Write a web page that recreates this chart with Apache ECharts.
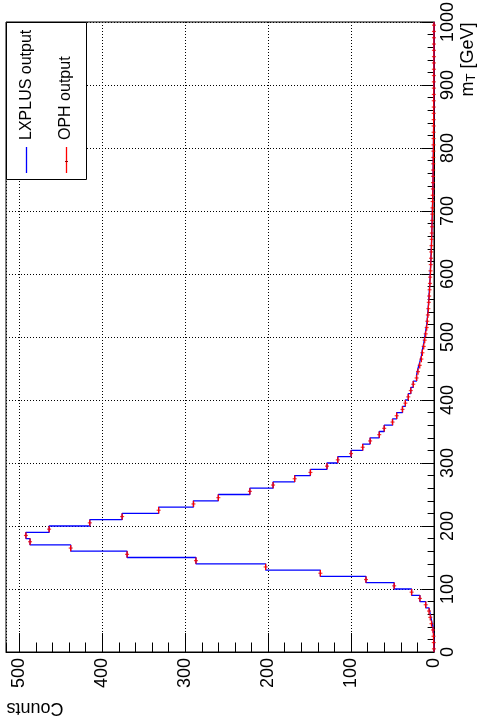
<!DOCTYPE html>
<html><head><meta charset="utf-8">
<script src="https://cdn.jsdelivr.net/npm/echarts@6/dist/echarts.min.js"></script>
<style>html,body{margin:0;padding:0;background:#fff}#c{width:477px;height:724px}</style>
</head><body><div id="c"></div>
<script>
// m_T bin edges [GeV]
const mtBinEdges = [0,10,20,30,40,50,60,70,80,90,100,110,120,130,140,150,160,170,180,190,
  200,210,220,230,240,250,260,270,280,290,300,310,320,330,340,350,360,370,380,390,
  400,410,420,430,440,450,460,470,480,490,500,510,520,530,540,550,560,570,580,590,
  600,610,620,630,640,650,660,670,680,690,700,710,720,730,740,750,760,770,780,790,
  800,810,820,830,840,850,860,870,880,890,900,910,920,930,940,950,960,970,980,990,1000];
// LXPLUS output counts per bin
const lxplusCounts = [0.1,0.3,0.6,1.2,3,4.5,6,10,17,27,
  48,82,137,203,287,370,438,487,492,464,
  415,376,332,290,260,222,194,168,149,129,
  116,100,86,77,66,60,50,45,38,34.5,
  31,28,25,21,19.3,17.2,15.2,14,12.4,11.2,
  10,8.8,8,7.4,6.8,6.3,5.8,5.3,4.9,4.6,
  4.2,3.9,3.6,3.3,3.0,2.8,2.6,2.4,2.2,2.0,
  1.8,1.6,1.5,1.3,1.2,1.1,1.0,0.9,0.8,0.7,
  0.6,0.55,0.5,0.45,0.4,0.35,0.3,0.3,0.25,0.2,
  0.2,0.2,0.15,0.15,0.1,0.1,0.1,0.1,0.05,0.05];
// OPH output counts per bin
const ophCounts = [0.1,0.3,0.6,1.2,3,4.5,6,10,17,27,
  48,82,137,203,287,370,438,487,492,464,
  415,376,332,290,260,222,194,168,149,129,
  116,100,86,77,66,60,50,45,38,34.5,
  31,28,25,21,19.3,17.2,15.2,14,12.4,11.2,
  10,8.8,8,7.4,6.8,6.3,5.8,5.3,4.9,4.6,
  4.2,3.9,3.6,3.3,3.0,2.8,2.6,2.4,2.2,2.0,
  1.8,1.6,1.5,1.3,1.2,1.1,1.0,0.9,0.8,0.7,
  0.6,0.55,0.5,0.45,0.4,0.35,0.3,0.3,0.25,0.2,
  0.2,0.2,0.15,0.15,0.1,0.1,0.1,0.1,0.05,0.05];
const seriesNames = ['LXPLUS output', 'OPH output'];
const countsTitle = 'Counts';
const mtTitleMain = 'm', mtTitleSub = 'T', mtTitleUnit = ' [GeV]';
const countsMax = 516, countsStep = 100, countsMinorStep = 20;
const mtMin = 0, mtMax = 1000, mtStep = 100;

const FONT = 'Liberation Sans, Arial, Helvetica, sans-serif';
const FS = 18;

function stepPoints(counts) {
  const pts = [];
  counts.forEach((c, i) => { pts.push([c, mtBinEdges[i]]); pts.push([c, mtBinEdges[i + 1]]); });
  return pts;
}
function binBars(counts) {
  const pts = [];
  counts.forEach((c, i) => { pts.push([c, mtBinEdges[i]]); pts.push([c, mtBinEdges[i + 1]]); pts.push(['-', '-']); });
  return pts;
}
function binCenters(counts) {
  return counts.map((c, i) => [c, (mtBinEdges[i] + mtBinEdges[i + 1]) / 2]);
}

const chart = echarts.init(document.getElementById('c'), null, {renderer: 'canvas'});
const dotted = {color: '#000', width: 1, type: [1, 2]};
const plain = v => String(v);
chart.setOption({
  animation: false,
  backgroundColor: '#fff',
  grid: {left: 6, right: 43, top: 22, bottom: 72, show: true, borderColor: '#000', borderWidth: 1,
         backgroundColor: '#fff', outerBoundsMode: 'none', containLabel: false},
  xAxis: [{
    type: 'value', inverse: true, min: 0, max: countsMax, interval: countsStep, position: 'bottom',
    axisLine: {show: true, onZero: false, lineStyle: {color: '#000', width: 1}},
    axisTick: {show: true, inside: true, length: 19, lineStyle: {color: '#000', width: 1}},
    minorTick: {show: false},
    splitLine: {show: true, lineStyle: dotted},
    axisLabel: {rotate: 90, margin: 6, showMaxLabel: false, color: '#000', fontFamily: FONT, fontSize: FS, formatter: plain}
  }, {
    type: 'value', inverse: true, min: 0, max: countsMax, interval: countsMinorStep, position: 'bottom',
    axisLine: {show: false}, axisTick: {show: true, inside: true, length: 9.5, lineStyle: {color: '#000', width: 1}},
    axisLabel: {show: false}, splitLine: {show: false}
  }],
  yAxis: {
    type: 'value', position: 'right', min: mtMin, max: mtMax, interval: mtStep,
    axisLine: {show: true, onZero: false, lineStyle: {color: '#000', width: 1}},
    axisTick: {show: true, inside: true, length: 12.7, lineStyle: {color: '#000', width: 1}},
    minorTick: {show: true, splitNumber: 5, length: 6.4, lineStyle: {color: '#000', width: 1}},
    splitLine: {show: true, lineStyle: dotted},
    axisLabel: {rotate: 90, margin: 5, color: '#000', fontFamily: FONT, fontSize: FS, formatter: plain}
  },
  series: [{
    name: seriesNames[0], type: 'line', xAxisIndex: 0, yAxisIndex: 0,
    data: stepPoints(lxplusCounts), symbol: 'none', showSymbol: false,
    lineStyle: {color: '#0000ff', width: 1.3}, z: 3
  }, {
    name: seriesNames[1], type: 'line', xAxisIndex: 0, yAxisIndex: 0,
    data: binBars(ophCounts), symbol: 'none', showSymbol: false, connectNulls: false,
    lineStyle: {color: '#ff0000', width: 1.3}, z: 4
  }, {
    name: seriesNames[1] + ' err', type: 'scatter', xAxisIndex: 0, yAxisIndex: 0,
    data: binCenters(ophCounts), symbol: 'rect', symbolSize: [4, 1.2],
    itemStyle: {color: '#ee0000'}, z: 5
  }],
  graphic: [
    {type: 'rect', z: 100, shape: {x: 6.5, y: 22.5, width: 80, height: 157},
     style: {fill: '#fff', stroke: '#000', lineWidth: 1}},
    {type: 'line', z: 101, shape: {x1: 26.5, y1: 147, x2: 26.5, y2: 173}, style: {stroke: '#0000ff', lineWidth: 1.3}},
    {type: 'line', z: 101, shape: {x1: 66.5, y1: 147, x2: 66.5, y2: 173}, style: {stroke: '#ff0000', lineWidth: 1.3}},
    {type: 'line', z: 102, shape: {x1: 65, y1: 161.5, x2: 68, y2: 161.5}, style: {stroke: '#990000', lineWidth: 1}},
    {type: 'text', z: 101, x: 27, y: 140, rotation: Math.PI / 2,
     style: {text: seriesNames[0], font: '16px ' + FONT, fill: '#000', textAlign: 'left', textVerticalAlign: 'middle'}},
    {type: 'text', z: 101, x: 65.5, y: 140, rotation: Math.PI / 2,
     style: {text: seriesNames[1], font: '16px ' + FONT, fill: '#000', textAlign: 'left', textVerticalAlign: 'middle'}},
    {type: 'text', z: 101, x: 6.5, y: 708, rotation: Math.PI,
     style: {text: countsTitle, font: FS + 'px ' + FONT, fill: '#000', textAlign: 'right', textVerticalAlign: 'middle'}},
    {type: 'text', z: 101, x: 468, y: 22.5, rotation: Math.PI / 2,
     style: {text: '{m|' + mtTitleMain + '}{s|' + mtTitleSub + '}{m|' + mtTitleUnit + '}',
       textAlign: 'right', textVerticalAlign: 'middle', fill: '#000',
       rich: {m: {fontSize: FS, fontFamily: FONT, fill: '#000', lineHeight: 20, verticalAlign: 'middle'},
              s: {fontSize: 13, fontFamily: FONT, fill: '#000', lineHeight: 13, verticalAlign: 'bottom'}}}}
  ]
});
</script></body></html>
